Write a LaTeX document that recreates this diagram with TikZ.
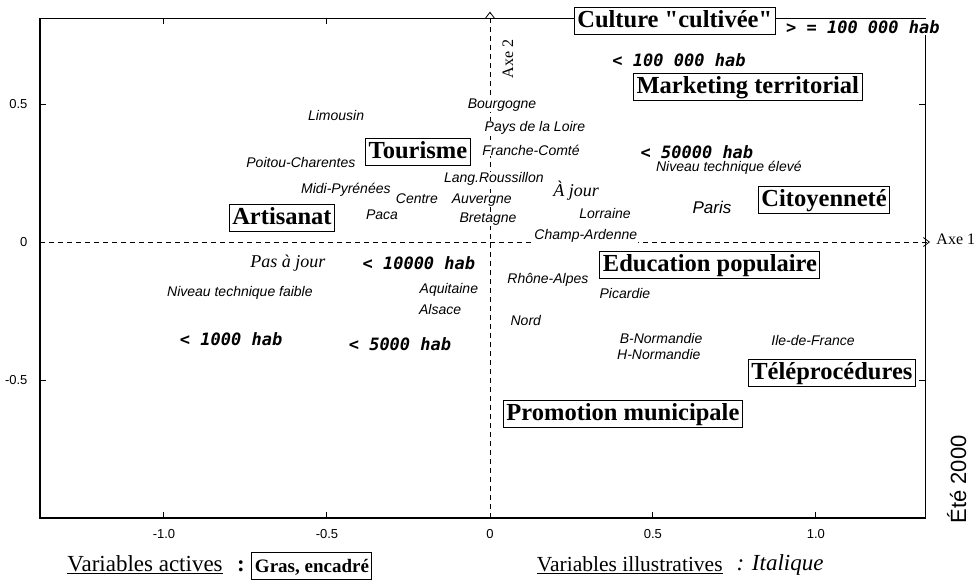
\documentclass[tikz,border=0pt]{standalone}
\usepackage{fontspec}
\setmainfont{Liberation Serif}
\setsansfont{Liberation Sans}
\newfontfamily\habfamily{DejaVu Sans Mono}
\usetikzlibrary{arrows.meta}

\newcommand\actfont{\fontsize{24.5}{27}\selectfont\bfseries}
\newcommand\illfont{\sffamily\itshape\fontsize{14}{16}\selectfont}
\newcommand\habfont{\habfamily\bfseries\itshape\fontsize{17}{19}\selectfont}
\newcommand\jourfont{\itshape\fontsize{18}{20}\selectfont}
\newcommand\tickfont{\sffamily\fontsize{13}{15}\selectfont}
\newcommand\legfont{\fontsize{23}{26}\selectfont}

\tikzset{
  active/.style={draw, line width=1pt, fill=white, font=\actfont, inner xsep=3pt, inner ysep=2pt, text height=18pt, text depth=5.5pt},
  illus/.style={fill=white, inner sep=1pt, font=\illfont},
  hab/.style={fill=white, inner sep=1pt, font=\habfont},
  jour/.style={fill=white, inner sep=1pt, font=\jourfont},
  axe/.style={dash pattern=on 5pt off 4pt, line width=0.8pt, -{Straight Barb[length=6pt,width=9pt]}},
}

\begin{document}
\begin{tikzpicture}[x=326pt, y=276pt]
    \useasboundingbox (-1.503,-1.225) rectangle (1.488,0.877);

    \draw[line width=1.2pt] (-1.38,-1) rectangle (1.335,0.81);
    \foreach \v in {-1,-0.5,0.5,1} {
      \draw[line width=1pt] (\v,-1) -- ++(0,6pt);
      \draw[line width=1pt] (\v,0.81) -- ++(0,-6pt);
    }
    \foreach \v in {-0.5,0.5} {
      \draw[line width=1pt] (-1.38,\v) -- ++(6pt,0);
      \draw[line width=1pt] (1.335,\v) -- ++(-6pt,0);
    }
    \foreach \v/\t in {-1/-1.0,-0.5/-0.5,0/0,0.5/0.5,1/1.0}
      \node[font=\tickfont, anchor=north] at (\v,-1.03) {\t};
    \foreach \v/\t in {0.5/0.5,0/0,-0.5/-0.5}
      \node[font=\tickfont, anchor=east] at (-1.408,\v) {\t};

    \coordinate (o1) at (-1.38,0);
    \coordinate (e1) at (1.35,0);
    \coordinate (o2) at (0,-1);
    \coordinate (e2) at (0,0.835);
    \draw[axe] (o1) -- (e1);
    \draw[axe] (o2) -- (e2);
    \node[font=\fontsize{16}{18}\selectfont, anchor=west] (axe1) at (1.359,0.01) {Axe 1};
    \node[font=\fontsize{16}{18}\selectfont, rotate=90] (axe2) at (0.055,0.663) {Axe 2};

    \node[active] (cult)  at (0.567,0.801)  {Culture \textquotedbl cultivée\textquotedbl};
    \node[active] (mkt)   at (0.791,0.562)  {Marketing territorial};
    \node[active] (tour)  at (-0.221,0.326) {Tourisme};
    \node[active] (art)   at (-0.638,0.087) {Artisanat};
    \node[active] (cit)   at (1.025,0.152)  {Citoyenneté};
    \node[active] (edu)   at (0.675,-0.083) {Education populaire};
    \node[active] (tele)  at (1.049,-0.475) {Téléprocédures};
    \node[active] (promo) at (0.408,-0.623) {Promotion municipale};

    \node[illus] (lim)   at (-0.472,0.460) {Limousin};
    \node[illus] (bour)  at (0.037,0.496)  {Bourgogne};
    \node[illus] (pdl)   at (0.138,0.413)  {Pays de la Loire};
    \node[illus] (fc)    at (0.126,0.333)  {Franche-Comté};
    \node[illus] (poit)  at (-0.580,0.290) {Poitou-Charentes};
    \node[illus] (midi)  at (-0.442,0.188) {Midi-Pyrénées};
    \node[illus] (lang)  at (0.012,0.228)  {Lang.Roussillon};
    \node[illus] (cent)  at (-0.224,0.156) {Centre};
    \node[illus] (auv)   at (-0.025,0.152) {Auvergne};
    \node[illus] (paca)  at (-0.331,0.098) {Paca};
    \node[illus] (bret)  at (-0.006,0.083) {Bretagne};
    \node[illus] (lor)   at (0.353,0.105)  {Lorraine};
    \node[illus] (champ) at (0.294,0.022)  {Champ-Ardenne};
    \node[illus, font=\sffamily\itshape\fontsize{17}{19}\selectfont] (par) at (0.681,0.127) {Paris};
    \node[illus] (nive)  at (0.733,0.268)  {Niveau technique élevé};
    \node[illus] (nivf)  at (-0.767,-0.185) {Niveau technique faible};
    \node[illus] (aqui)  at (-0.126,-0.174) {Aquitaine};
    \node[illus] (als)   at (-0.153,-0.246) {Alsace};
    \node[illus] (rhon)  at (0.178,-0.138)  {Rhône-Alpes};
    \node[illus] (pic)   at (0.414,-0.185)  {Picardie};
    \node[illus] (nord)  at (0.110,-0.286)  {Nord};
    \node[illus] (bnor)  at (0.525,-0.348)  {B-Normandie};
    \node[illus] (hnor)  at (0.518,-0.409)  {H-Normandie};
    \node[illus] (idf)   at (0.991,-0.355)  {Ile-de-France};

    \node[jour] (ajour)  at (0.264,0.185)   {À jour};
    \node[jour] (pajour) at (-0.620,-0.076) {Pas à jour};

    \node[hab] (h100k) at (0.580,0.659)   {< 100 000 hab};
    \node[hab] (hsup)  at (1.144,0.779)   {> = 100 000 hab};
    \node[hab] (h50k)  at (0.635,0.326)   {< 50000 hab};
    \node[hab] (h10k)  at (-0.218,-0.076) {< 10000 hab};
    \node[hab] (h1k)   at (-0.794,-0.351) {< 1000 hab};
    \node[hab] (h5k)   at (-0.276,-0.370) {< 5000 hab};

    \node[font=\legfont] (vact) at (-1.058,-1.17) {\underline{Variables actives}};
    \node[font=\legfont\bfseries] (dp1) at (-0.764,-1.175) {:};
    \node[active, font=\fontsize{19}{22}\selectfont\bfseries] (gras) at (-0.546,-1.174) {Gras, encadré};
    \node[font=\fontsize{21.5}{24}\selectfont] (vill) at (0.429,-1.17) {\underline{Variables illustratives}};
    \node[font=\legfont\itshape] (ital) at (0.89,-1.17) {: Italique};

    \node[font=\sffamily\fontsize{22}{24}\selectfont, rotate=90, anchor=east] (ete) at (1.432,-0.688) {Été 2000};
  \end{tikzpicture}
\end{document}
